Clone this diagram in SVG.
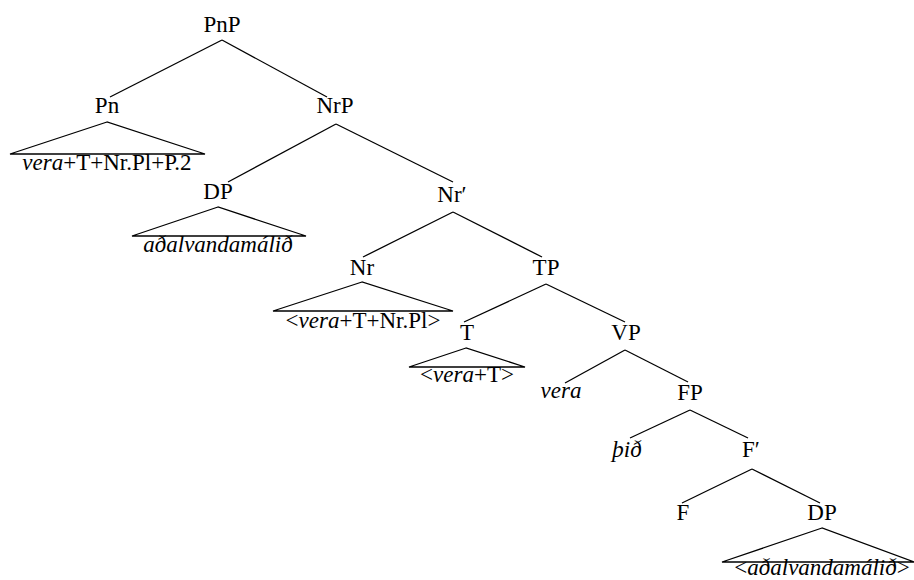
<svg xmlns="http://www.w3.org/2000/svg" width="914" height="580" viewBox="0 0 914 580">
<style>
text{font-size:23px;fill:#000;text-anchor:middle}
.i{font-style:italic}
line,polygon{stroke:#000;stroke-width:1.3;fill:none}
</style>
<rect width="914" height="580" fill="#fff"/>
<g id="connectors">
<line x1="222" y1="40" x2="110" y2="97"/>
<line x1="222" y1="40" x2="327" y2="97"/>
<line x1="336" y1="124" x2="228" y2="182"/>
<line x1="336" y1="124" x2="453" y2="182"/>
<line x1="453" y1="212" x2="363" y2="257"/>
<line x1="453" y1="212" x2="542" y2="257"/>
<line x1="546" y1="284" x2="464" y2="322"/>
<line x1="546" y1="284" x2="625" y2="322"/>
<line x1="625" y1="350" x2="565" y2="383"/>
<line x1="625" y1="350" x2="688" y2="382"/>
<line x1="690" y1="410" x2="630" y2="438"/>
<line x1="690" y1="410" x2="748" y2="438"/>
<line x1="752" y1="469" x2="682" y2="503"/>
<line x1="752" y1="469" x2="820" y2="503"/>
</g>
<g font-family="Liberation Serif, DejaVu Serif, serif">
<g id="PnP"><text x="222" y="31.5">PnP</text></g>
<g id="Pn"><text x="107" y="113">Pn</text>
<polygon points="107,122 10,154 205,154"/>
<text x="107" y="170"><tspan class="i">vera</tspan>+T+Nr.Pl+P.2</text></g>
<g id="NrP"><text x="335" y="113">NrP</text></g>
<g id="DP1"><text x="218" y="199">DP</text>
<polygon points="218,207 132,236 306,236"/>
<text x="218" y="252" class="i">aðalvandamálið</text></g>
<g id="NrBar"><text x="452" y="202">Nr′</text></g>
<g id="Nr"><text x="362" y="275">Nr</text>
<polygon points="362,282 273,311 453,311"/>
<text x="363" y="328">&lt;<tspan class="i">vera</tspan>+T+Nr.Pl&gt;</text></g>
<g id="TP"><text x="546" y="275">TP</text></g>
<g id="T"><text x="467" y="340">T</text>
<polygon points="466,348 409,367 525,367"/>
<text x="467" y="382">&lt;<tspan class="i">vera</tspan>+T&gt;</text></g>
<g id="VP"><text x="626" y="340">VP</text></g>
<g id="vera"><text x="561" y="398" class="i">vera</text></g>
<g id="FP"><text x="690" y="400">FP</text></g>
<g id="thid"><text x="627" y="457" class="i">þið</text></g>
<g id="FBar"><text x="751" y="457">F′</text></g>
<g id="F"><text x="683" y="520">F</text></g>
<g id="DP2"><text x="822" y="520">DP</text>
<polygon points="822,528 722,562 914,562"/>
<text x="822" y="575">&lt;<tspan class="i">aðalvandamálið</tspan>&gt;</text></g>
</g>
</svg>
